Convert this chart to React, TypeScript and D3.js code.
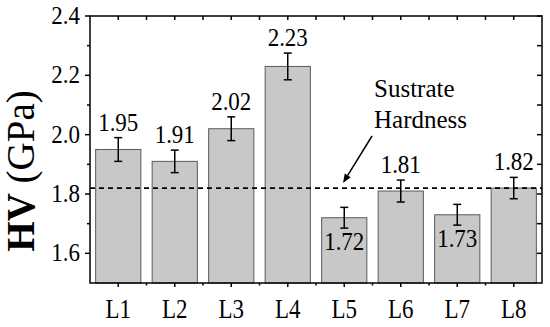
import React from "react";
import * as d3 from "d3";

const categories = ["L1", "L2", "L3", "L4", "L5", "L6", "L7", "L8"];
const hardness = [1.95, 1.91, 2.02, 2.23, 1.72, 1.81, 1.73, 1.82];
const errors = [0.04, 0.038, 0.04, 0.045, 0.035, 0.037, 0.035, 0.036];
const labelInside = [false, false, false, false, true, false, true, false];
const substrateHardness = 1.82;
const yMajorTicks = [1.6, 1.8, 2.0, 2.2, 2.4];
const yMinorTicks = [1.7, 1.9, 2.1, 2.3];
const yDomain = [1.5, 2.4];

const FONT = "Liberation Serif";
const ts = { fontFamily: FONT } as React.CSSProperties;

function T({ x, y, children, anchor = "middle", size = 23, sy = 1.1 }: any) {
  return (
    <text transform={`translate(${x},${y}) scale(1,${sy})`} textAnchor={anchor} fontSize={size} fill="#000" style={ts}>
      {children}
    </text>
  );
}

export default function App() {
  const left = 90, right = 542, top = 16, bottom = 283;
  const x = d3.scaleBand<string>().domain(categories).range([left, right]).paddingInner(0.2).paddingOuter(0.1);
  const y = d3.scaleLinear().domain(yDomain).range([bottom, top]);
  const step = x.step();
  const bw = x.bandwidth();
  const centers = categories.map((c) => (x(c) as number) + bw / 2);
  const boundaries = d3.range(1, categories.length).map((i) => left + i * step);

  // arrow
  const ax1 = 372, ay1 = 136, ax2 = 343, ay2 = 183;
  const ang = Math.atan2(ay2 - ay1, ax2 - ax1);
  const hl = 9, hw = 3.5;
  const bx = ax2 - hl * Math.cos(ang), by = ay2 - hl * Math.sin(ang);
  const head = `M${ax2},${ay2} L${bx + hw * Math.sin(ang)},${by - hw * Math.cos(ang)} L${bx - hw * Math.sin(ang)},${by + hw * Math.cos(ang)} Z`;

  return (
    <svg width={550} height={327} style={{ position: "absolute", left: 0, top: 0, background: "#fff", fontFamily: FONT }}>
      <rect x={0} y={0} width={550} height={327} fill="#fff" />
      {/* bars */}
      {categories.map((c, i) => (
        <rect key={c} x={x(c)} y={y(hardness[i])} width={bw} height={bottom - y(hardness[i])}
          fill="#c8c8c8" stroke="#5a5a5a" strokeWidth={1} />
      ))}
      {/* dashed substrate line */}
      <line x1={left} x2={right} y1={y(substrateHardness)} y2={y(substrateHardness)}
        stroke="#000" strokeWidth={1.8} strokeDasharray="5,4" />
      {/* error bars */}
      {categories.map((c, i) => {
        const cx = centers[i];
        const t = y(hardness[i] + errors[i]);
        const b = y(hardness[i] - errors[i]);
        return (
          <g key={c} stroke="#000" strokeWidth={1.5}>
            <line x1={cx} x2={cx} y1={t} y2={b} />
            <line x1={cx - 4} x2={cx + 4} y1={t} y2={t} />
            <line x1={cx - 4} x2={cx + 4} y1={b} y2={b} />
          </g>
        );
      })}
      {/* value labels */}
      {categories.map((c, i) => {
        const cx = centers[i];
        const ly = labelInside[i] ? y(hardness[i] - errors[i]) + 22 : y(hardness[i] + errors[i]) - 7;
        return (
          <T key={c} x={cx} y={ly}>{hardness[i].toFixed(2)}</T>
        );
      })}
      {/* frame */}
      <rect x={left} y={top} width={right - left} height={bottom - top} fill="none" stroke="#000" strokeWidth={1.5} />
      {/* left axis ticks (outward) */}
      {yMajorTicks.map((v) => (
        <g key={v}>
          <line x1={left - 5} x2={left} y1={y(v)} y2={y(v)} stroke="#000" strokeWidth={1.5} />
          <T x={left - 10} y={y(v) + 8} anchor="end">{v.toFixed(1)}</T>
          <line x1={right - 5} x2={right} y1={y(v)} y2={y(v)} stroke="#000" strokeWidth={1.5} />
        </g>
      ))}
      {yMinorTicks.map((v) => (
        <g key={v}>
          <line x1={left - 3} x2={left} y1={y(v)} y2={y(v)} stroke="#000" strokeWidth={1.5} />
          <line x1={right - 5} x2={right} y1={y(v)} y2={y(v)} stroke="#000" strokeWidth={1.5} />
        </g>
      ))}
      {/* bottom axis ticks */}
      {centers.map((cx, i) => (
        <g key={i}>
          <line x1={cx} x2={cx} y1={bottom} y2={bottom + 4} stroke="#000" strokeWidth={1.5} />
          <line x1={cx} x2={cx} y1={top} y2={top + 4} stroke="#000" strokeWidth={1.5} />
          <T x={cx} y={318} sy={1.18}>{categories[i]}</T>
        </g>
      ))}
      {boundaries.map((bx2, i) => (
        <g key={i}>
          <line x1={bx2} x2={bx2} y1={bottom} y2={bottom + 2.5} stroke="#000" strokeWidth={1.5} />
          <line x1={bx2} x2={bx2} y1={top} y2={top + 4} stroke="#000" strokeWidth={1.5} />
        </g>
      ))}
      {/* annotation */}
      <T x={374} y={97} anchor="start" size={25} sy={1}>Sustrate</T>
      <T x={374} y={128} anchor="start" size={25} sy={1}>Hardness</T>
      <line x1={ax1} y1={ay1} x2={bx} y2={by} stroke="#000" strokeWidth={1.5} />
      <path d={head} fill="#000" />
      {/* y title */}
      <text transform="translate(34,171) rotate(-90)" textAnchor="middle" fontSize={39} style={ts}>
        <tspan fontWeight="bold">HV</tspan>
        <tspan> (GPa)</tspan>
      </text>
    </svg>
  );
}
